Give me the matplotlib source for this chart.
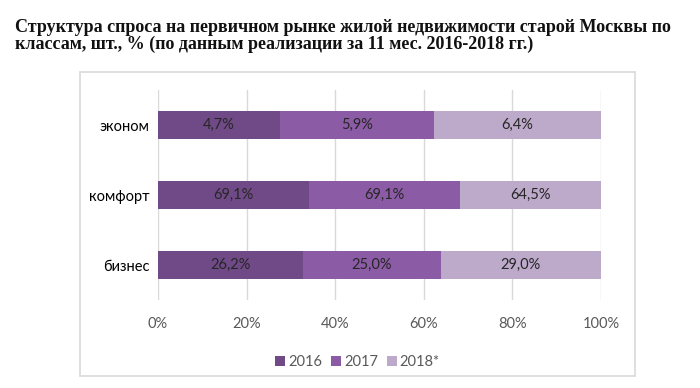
import matplotlib
matplotlib.use("Agg")
import matplotlib.pyplot as plt
from matplotlib.patches import Rectangle
import numpy as np

categories = ["эконом", "комфорт", "бизнес"]
years = ["2016", "2017", "2018*"]
v2016 = [4.7, 69.1, 26.2]
v2017 = [5.9, 69.1, 25.0]
v2018 = [6.4, 64.5, 29.0]
xticks = [0, 20, 40, 60, 80, 100]
xticklabels = ["0%", "20%", "40%", "60%", "80%", "100%"]
title = ("Структура спроса на первичном рынке жилой недвижимости старой Москвы по\n"
         "классам, шт., % (по данным реализации за 11 мес. 2016-2018 гг.)")

colors = ["#704A87", "#8C5BA6", "#BDA9CA"]
sans = ["Lato", "DejaVu Sans"]

fig = plt.figure(figsize=(7, 3.88), dpi=100)
fig.patch.set_facecolor("white")

# outer frame
fig.patches.append(Rectangle((0.1143, 0.031), 0.793, 0.7835, transform=fig.transFigure,
                             fill=False, edgecolor="#d9d9d9", linewidth=1.2, zorder=0))

fig.text(0.021, 0.952, title, ha="left", va="top", fontsize=13.0, fontweight="bold",
         family=["Liberation Serif"], linespacing=1.02, color="#111111")

ax = fig.add_axes([0.2257, 0.2268, 0.6329, 0.5412])
data = np.array([v2016, v2017, v2018])
totals = data.sum(axis=0)
shares = data / totals * 100
y = np.arange(len(categories))
left = np.zeros(len(categories))
for i, yr in enumerate(years):
    ax.barh(y, shares[i], left=left, height=0.4, color=colors[i], label=yr, zorder=3)
    for j in range(len(categories)):
        ax.text(left[j] + shares[i][j] / 2, y[j], f"{data[i][j]:.1f}%".replace(".", ","),
                ha="center", va="center", fontsize=10.5, family=sans, color="#262626", zorder=4)
    left += shares[i]

ax.set_ylim(len(categories) - 0.5, -0.5)
ax.set_xlim(0, 100)
ax.set_yticks(y)
ax.set_yticklabels(categories, fontsize=10.5, family=sans, color="#000000")
ax.set_xticks(xticks)
ax.set_xticklabels(xticklabels, fontsize=10.5, family=sans, color="#595959")
ax.tick_params(axis="both", length=0)
ax.tick_params(axis="x", pad=12)
ax.tick_params(axis="y", pad=6)
ax.grid(axis="x", color="#d9d9d9", linewidth=1, zorder=0)
for s in ax.spines.values():
    s.set_visible(False)

leg = ax.legend(loc="upper center", ncol=3, frameon=False,
                prop={"family": sans, "size": 10.5}, handlelength=0.7, handleheight=0.7,
                handletextpad=0.2, columnspacing=0.6, labelcolor="#595959")
leg.set_bbox_to_anchor((0.45, -0.2), transform=ax.transAxes)

fig.savefig("out.png", dpi=100, facecolor="white")
